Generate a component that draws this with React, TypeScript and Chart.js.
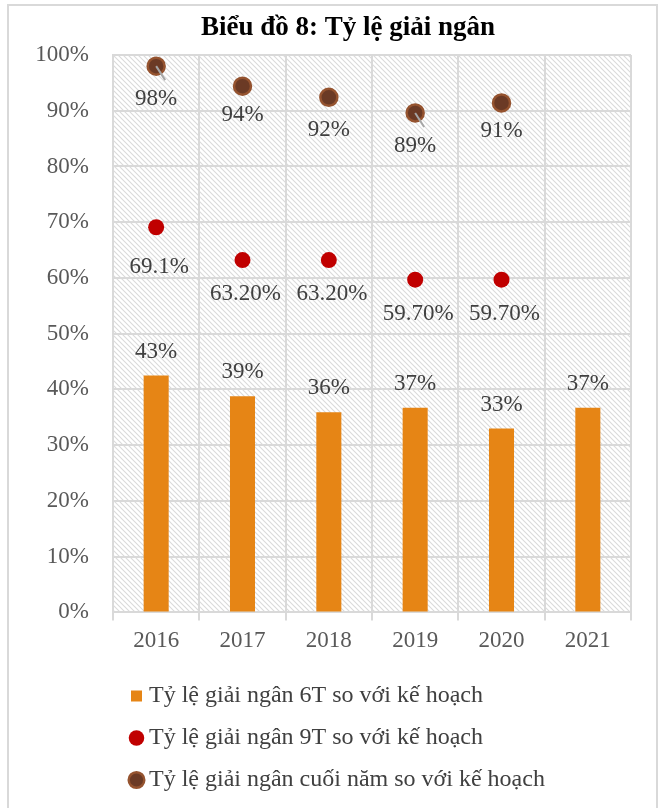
import React, { useEffect, useRef } from 'react';
import { Chart, registerables } from 'chart.js';

Chart.register(...registerables);

const years = ['2016', '2017', '2018', '2019', '2020', '2021'];
const rate6T = [42.5, 38.8, 35.9, 36.7, 33.0, 36.7];
const rate6TLabels = ['43%', '39%', '36%', '37%', '33%', '37%'];
const rate9T = [69.1, 63.2, 63.2, 59.7, 59.7, null];
const rate9TLabels = ['69.1%', '63.20%', '63.20%', '59.70%', '59.70%', ''];
const rateYear = [98.0, 94.4, 92.4, 89.6, 91.4, null];
const rateYearLabels = ['98%', '94%', '92%', '89%', '91%', ''];
const seriesNames = [
  'Tỷ lệ giải ngân 6T so với kế hoạch',
  'Tỷ lệ giải ngân 9T so với kế hoạch',
  'Tỷ lệ giải ngân cuối năm so với kế hoạch',
];
const titleText = 'Biểu đồ 8: Tỷ lệ giải ngân';

const FONT = '"Liberation Serif", "Times New Roman", serif';

const hatchPlugin = {
  id: 'hatchBg',
  beforeDraw(chart: any) {
    const { ctx, chartArea } = chart;
    const tile = document.createElement('canvas');
    tile.width = 5;
    tile.height = 5;
    const t = tile.getContext('2d')!;
    t.fillStyle = '#ffffff';
    t.fillRect(0, 0, 5, 5);
    t.strokeStyle = '#dadada';
    t.lineWidth = 1.1;
    t.beginPath();
    t.moveTo(-1, -1); t.lineTo(6, 6);
    t.moveTo(-1, 4); t.lineTo(1, 6);
    t.moveTo(4, -1); t.lineTo(6, 1);
    t.stroke();
    const pat = ctx.createPattern(tile, 'repeat');
    ctx.save();
    ctx.fillStyle = pat;
    ctx.fillRect(chartArea.left, chartArea.top, chartArea.right - chartArea.left, chartArea.bottom - chartArea.top);
    ctx.restore();
  },
};

const titlePlugin = {
  id: 'customTitle',
  afterDraw(chart: any, _args: any, opts: any) {
    const ctx = chart.ctx;
    ctx.save();
    ctx.font = `bold 27px ${FONT}`;
    ctx.fillStyle = '#000000';
    ctx.textAlign = 'center';
    ctx.textBaseline = 'middle';
    ctx.fillText(opts.text, opts.x, opts.y);
    ctx.restore();
  },
};

const legendShiftPlugin = {
  id: 'legendShift',
  afterLayout(chart: any, _args: any, opts: any) {
    const l = chart.legend;
    if (l) {
      l.left += opts.shift || 0;
      l.right += opts.shift || 0;
    }
  },
};

const labelPlugin = {
  id: 'valueLabels',
  afterDatasetsDraw(chart: any, _args: any, opts: any) {
    const ctx = chart.ctx;
    ctx.save();
    ctx.font = `23px ${FONT}`;
    ctx.fillStyle = '#404040';
    ctx.textAlign = 'center';
    ctx.textBaseline = 'middle';
    (opts.series || []).forEach((s: any, di: number) => {
      const meta = chart.getDatasetMeta(di);
      meta.data.forEach((el: any, i: number) => {
        const text = s.labels[i];
        if (!text) return;
        const dy = Array.isArray(s.dy) ? s.dy[i] : s.dy;
        const dx = Array.isArray(s.dx) ? s.dx[i] : s.dx || 0;
        if (s.leader && s.leader[i]) {
          ctx.save();
          ctx.strokeStyle = '#a6a6a6';
          ctx.lineWidth = 2;
          ctx.beginPath();
          ctx.moveTo(el.x, el.y);
          ctx.lineTo(el.x + 9, el.y + 14);
          ctx.stroke();
          ctx.restore();
        }
        ctx.fillText(text, el.x + dx, el.y + dy);
      });
    });
    ctx.restore();
  },
};

export default function App() {
  const ref = useRef<HTMLCanvasElement>(null);

  useEffect(() => {
    if (!ref.current) return;
    const pointStyles = ['rect', 'circle', 'circle'];
    const chart = new Chart(ref.current, {
      type: 'bar',
      data: {
        labels: years,
        datasets: [
          {
            type: 'bar',
            label: seriesNames[0],
            data: rate6T,
            backgroundColor: '#E68515',
            borderWidth: 0,
            barPercentage: 0.29,
            categoryPercentage: 1,
            pointStyle: 'rect',
          } as any,
          {
            type: 'line',
            label: seriesNames[1],
            data: rate9T,
            showLine: false,
            pointStyle: 'circle',
            pointRadius: 8,
            pointHoverRadius: 8,
            pointBackgroundColor: '#C00000',
            pointBorderColor: '#C00000',
            backgroundColor: '#C00000',
            borderColor: '#C00000',
            pointBorderWidth: 0,
            borderWidth: 0,
          } as any,
          {
            type: 'line',
            label: seriesNames[2],
            data: rateYear,
            showLine: false,
            pointStyle: 'circle',
            pointRadius: 8.5,
            pointHoverRadius: 8.5,
            pointBackgroundColor: '#6B3A25',
            pointBorderColor: '#95532F',
            backgroundColor: '#6B3A25',
            borderColor: '#95532F',
            pointBorderWidth: 2.5,
            borderWidth: 2.5,
          } as any,
        ],
      },
      options: {
        responsive: false,
        animation: false,
        devicePixelRatio: 1,
        layout: { padding: { left: 0, right: 25, top: 49, bottom: 6 } },
        font: { family: FONT },
        scales: {
          x: {
            offset: true,
            grid: {
              offset: true,
              color: '#d9d9d9',
              lineWidth: 2,
              drawTicks: true,
              tickLength: 8,
              tickColor: '#d9d9d9',
            },
            border: { display: true, color: '#d9d9d9', width: 2 },
            ticks: {
              color: '#595959',
              font: { family: FONT, size: 23 },
              padding: 7,
            },
            afterFit(scale: any) {
              scale.height += 4;
            },
          },
          y: {
            min: 0,
            max: 100,
            grid: { color: '#d9d9d9', lineWidth: 2, drawTicks: false },
            border: { display: true, color: '#d9d9d9', width: 2 },
            ticks: {
              stepSize: 10,
              color: '#595959',
              font: { family: FONT, size: 23 },
              padding: 24,
              callback: (v: any) => v + '%',
            },
            afterFit(scale: any) {
              scale.width = 104;
            },
          },
        },
        plugins: {
          title: { display: false },
          customTitle: { text: titleText, x: 339, y: 22.5 },
          legend: {
            display: true,
            position: 'bottom',
            align: 'start',
            labels: {
              usePointStyle: true,
              boxWidth: 1,
              boxHeight: 11,
              padding: 18,
              color: '#404040',
              font: { family: FONT, size: 24 },
              generateLabels(ch: any) {
                const items = Chart.defaults.plugins.legend.labels.generateLabels(ch);
                return items.map((it: any) => ({ ...it, pointStyle: pointStyles[it.datasetIndex] }));
              },
            },
          },
          tooltip: { enabled: false },
          legendShift: { shift: 109 },
          valueLabels: {
            series: [
              { labels: rate6TLabels, dy: -24 },
              { labels: rate9TLabels, dy: [40, 34, 34, 34, 34, 0], dx: 3 },
              {
                labels: rateYearLabels,
                dy: [33, 29, 33, 33, 28, 0],
                leader: [true, false, false, true, false, false],
              },
            ],
          },
        } as any,
      },
      plugins: [hatchPlugin, legendShiftPlugin, labelPlugin, titlePlugin],
    });
    return () => chart.destroy();
  }, []);

  return (
    <div
      style={{
        position: 'absolute',
        left: 7,
        top: 4,
        width: 647,
        height: 808,
        borderTop: '2px solid #d9d9d9',
        borderLeft: '2px solid #d9d9d9',
        borderRight: '2px solid #d9d9d9',
        background: '#ffffff',
      }}
    >
      <canvas ref={ref} width={647} height={802} style={{ display: 'block' }} />
    </div>
  );
}
